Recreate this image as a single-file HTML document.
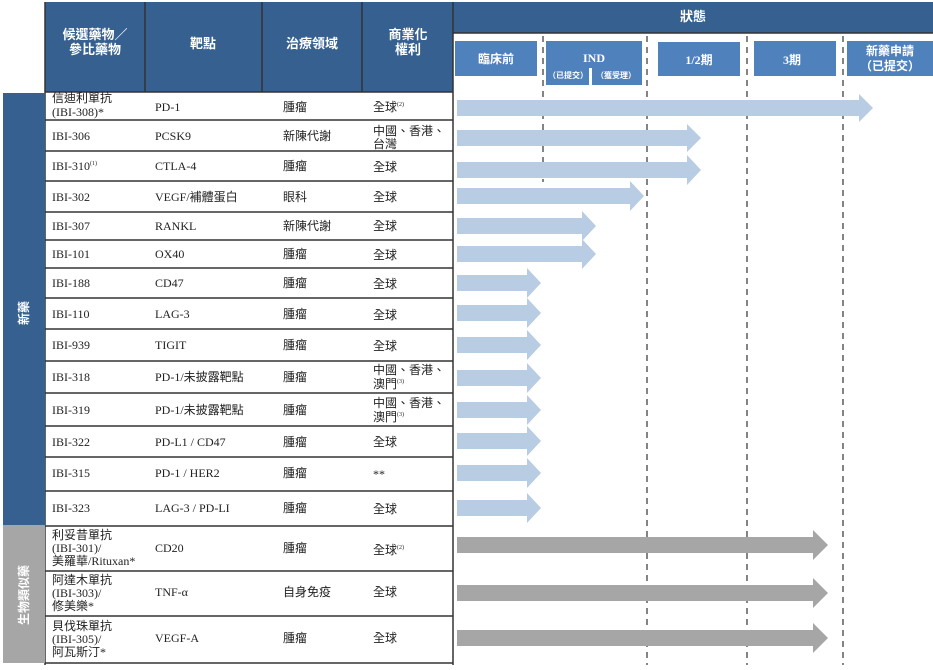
<!DOCTYPE html>
<html><head><meta charset="utf-8"><style>
body{margin:0;width:933px;height:665px;background:#fff;overflow:hidden;font-family:"Liberation Serif","Noto Serif CJK SC","Noto Sans CJK TC",serif;}
svg text{font-family:"Liberation Serif","Noto Sans CJK TC",serif;}
.h{font-family:"Liberation Sans","Noto Sans CJK TC",sans-serif;font-weight:bold;fill:#fff;}
</style></head><body>
<svg width="933" height="665" viewBox="0 0 933 665" xmlns="http://www.w3.org/2000/svg">
<rect x="45" y="2" width="408" height="90" fill="#36608f"/>
<rect x="453" y="2" width="480" height="31" fill="#36608f"/>
<g stroke="#333" stroke-width="1.5">
<line x1="145" y1="2" x2="145" y2="92"/><line x1="262" y1="2" x2="262" y2="92"/><line x1="362" y1="2" x2="362" y2="92"/>
<line x1="453" y1="2" x2="453" y2="665"/><line x1="45" y1="2" x2="45" y2="665"/>
<line x1="453" y1="33" x2="933" y2="33"/>
</g>
<g class="h" font-size="13" text-anchor="middle">
<text x="95" y="39" class="h">候選藥物／</text><text x="95" y="54" class="h">參比藥物</text>
<text x="203" y="48" class="h">靶點</text>
<text x="312" y="48" class="h">治療領域</text>
<text x="408" y="39" class="h">商業化</text><text x="408" y="54" class="h">權利</text>
<text x="693" y="21" class="h">狀態</text>
</g>
<g fill="#4f81bd">
<rect x="455" y="41" width="82" height="35"/>
<rect x="546" y="41" width="96" height="44"/>
<rect x="658" y="42" width="82" height="34"/>
<rect x="754" y="41" width="82" height="35"/>
<rect x="847" y="41" width="86" height="35"/>
</g>
<rect x="589" y="68" width="3" height="18" fill="#fff"/>
<g class="h" text-anchor="middle" font-size="12">
<text x="496" y="63" class="h">臨床前</text>
<text x="594" y="62" class="h" style="font-family:'Liberation Serif',serif">IND</text>
<text x="568" y="78" class="h" font-size="8">（已提交）</text>
<text x="616" y="78" class="h" font-size="8">（獲受理）</text>
<text x="699" y="64" class="h" style="font-family:'Liberation Serif','Noto Sans CJK TC',serif">1/2期</text>
<text x="792" y="64" class="h" style="font-family:'Liberation Serif','Noto Sans CJK TC',serif">3期</text>
<text x="890" y="55" class="h">新藥申請</text>
<text x="890" y="70" class="h">（已提交）</text>
</g>
<g stroke="#333" stroke-width="1.2" stroke-dasharray="6,5">
<line x1="543" y1="36" x2="543" y2="182"/>
<line x1="647" y1="36" x2="647" y2="665"/>
<line x1="747" y1="36" x2="747" y2="665"/>
<line x1="843" y1="36" x2="843" y2="665"/>
</g>
<rect x="3" y="93" width="42" height="432" fill="#36608f"/>
<rect x="3" y="525" width="42" height="138" fill="#a6a6a6"/>
<text class="h" font-size="12" transform="translate(28,313) rotate(-90)" text-anchor="middle">新藥</text>
<text class="h" font-size="12" transform="translate(28,595) rotate(-90)" text-anchor="middle">生物類似藥</text>
<g stroke="#333" stroke-width="1.5">
<line x1="45" y1="92" x2="453" y2="92"/>
<line x1="45" y1="120" x2="453" y2="120"/><line x1="45" y1="151" x2="453" y2="151"/>
<line x1="45" y1="181" x2="453" y2="181"/><line x1="45" y1="212" x2="453" y2="212"/>
<line x1="45" y1="240" x2="453" y2="240"/><line x1="45" y1="268" x2="453" y2="268"/>
<line x1="45" y1="298" x2="453" y2="298"/><line x1="45" y1="329" x2="453" y2="329"/>
<line x1="45" y1="361" x2="453" y2="361"/><line x1="45" y1="393" x2="453" y2="393"/>
<line x1="45" y1="426" x2="453" y2="426"/><line x1="45" y1="457" x2="453" y2="457"/>
<line x1="45" y1="491" x2="453" y2="491"/><line x1="45" y1="526" x2="453" y2="526"/>
<line x1="45" y1="571" x2="453" y2="571"/><line x1="45" y1="616" x2="453" y2="616"/>
<line x1="45" y1="663" x2="453" y2="663"/>
</g>
<g font-size="12" fill="#222">
<text x="52" y="102">信迪利單抗</text><text x="52" y="116">(IBI-308)*</text>
<text x="52" y="140">IBI-306</text><text x="52" y="170">IBI-310<tspan font-size="6" dy="-5">(1)</tspan></text>
<text x="52" y="201">IBI-302</text><text x="52" y="230">IBI-307</text><text x="52" y="258">IBI-101</text>
<text x="52" y="287">IBI-188</text><text x="52" y="318">IBI-110</text><text x="52" y="349">IBI-939</text>
<text x="52" y="381">IBI-318</text><text x="52" y="414">IBI-319</text><text x="52" y="446">IBI-322</text>
<text x="52" y="477">IBI-315</text><text x="52" y="512">IBI-323</text>
<text x="52" y="539">利妥昔單抗</text><text x="52" y="552">(IBI-301)/</text><text x="52" y="565">美羅華/Rituxan*</text>
<text x="52" y="584">阿達木單抗</text><text x="52" y="597">(IBI-303)/</text><text x="52" y="610">修美樂*</text>
<text x="52" y="630">貝伐珠單抗</text><text x="52" y="643">(IBI-305)/</text><text x="52" y="656">阿瓦斯汀*</text>

<text x="155" y="111">PD-1</text><text x="155" y="140">PCSK9</text><text x="155" y="170">CTLA-4</text>
<text x="155" y="201">VEGF/補體蛋白</text><text x="155" y="230">RANKL</text><text x="155" y="258">OX40</text>
<text x="155" y="287">CD47</text><text x="155" y="318">LAG-3</text><text x="155" y="349">TIGIT</text>
<text x="155" y="381">PD-1/未披露靶點</text><text x="155" y="414">PD-1/未披露靶點</text><text x="155" y="446">PD-L1 / CD47</text>
<text x="155" y="477">PD-1 / HER2</text><text x="155" y="512">LAG-3 / PD-LI</text>
<text x="155" y="552">CD20</text><text x="155" y="596">TNF-α</text><text x="155" y="642">VEGF-A</text>

<text x="283" y="111">腫瘤</text><text x="283" y="140">新陳代謝</text><text x="283" y="170">腫瘤</text>
<text x="283" y="201">眼科</text><text x="283" y="230">新陳代謝</text><text x="283" y="258">腫瘤</text>
<text x="283" y="287">腫瘤</text><text x="283" y="318">腫瘤</text><text x="283" y="349">腫瘤</text>
<text x="283" y="381">腫瘤</text><text x="283" y="414">腫瘤</text><text x="283" y="446">腫瘤</text>
<text x="283" y="477">腫瘤</text><text x="283" y="512">腫瘤</text>
<text x="283" y="552">腫瘤</text><text x="283" y="596">自身免疫</text><text x="283" y="642">腫瘤</text>

<text x="373" y="111">全球<tspan font-size="6" dy="-5">(2)</tspan></text>
<text x="373" y="135">中國、香港、</text><text x="373" y="148">台灣</text>
<text x="373" y="171">全球</text><text x="373" y="201">全球</text><text x="373" y="230">全球</text><text x="373" y="259">全球</text>
<text x="373" y="288">全球</text><text x="373" y="319">全球</text><text x="373" y="350">全球</text>
<text x="373" y="374">中國、香港、</text><text x="373" y="388">澳門<tspan font-size="6" dy="-5">(3)</tspan></text>
<text x="373" y="407">中國、香港、</text><text x="373" y="421">澳門<tspan font-size="6" dy="-5">(3)</tspan></text>
<text x="373" y="446">全球</text><text x="373" y="478">**</text><text x="373" y="513">全球</text>
<text x="373" y="554">全球<tspan font-size="6" dy="-5">(2)</tspan></text><text x="373" y="596">全球</text><text x="373" y="642">全球</text>
</g>
<g fill="#b8cce4">
<polygon points="457,100 859,100 859,94 873,108 859,122 859,116 457,116"/>
<polygon points="457,130 687,130 687,124 701,138 687,152 687,146 457,146"/>
<polygon points="457,162 687,162 687,155 701,170 687,185 687,178 457,178"/>
<polygon points="457,188 630,188 630,181 644,196 630,211 630,204 457,204"/>
<polygon points="457,218 582,218 582,211 596,226 582,241 582,234 457,234"/>
<polygon points="457,246 582,246 582,239 596,254 582,269 582,262 457,262"/>
<polygon points="457,275 527,275 527,268 541,283 527,298 527,291 457,291"/>
<polygon points="457,305 527,305 527,298 541,313 527,328 527,321 457,321"/>
<polygon points="457,337 527,337 527,330 541,345 527,360 527,353 457,353"/>
<polygon points="457,370 527,370 527,363 541,378 527,393 527,386 457,386"/>
<polygon points="457,402 527,402 527,395 541,410 527,425 527,418 457,418"/>
<polygon points="457,433 527,433 527,426 541,441 527,456 527,449 457,449"/>
<polygon points="457,465 527,465 527,458 541,473 527,488 527,481 457,481"/>
<polygon points="457,500 527,500 527,493 541,508 527,523 527,516 457,516"/>
</g>
<g fill="#a6a6a6">
<polygon points="457,537 813,537 813,530 828,545 813,560 813,553 457,553"/>
<polygon points="457,585 813,585 813,578 828,593 813,608 813,601 457,601"/>
<polygon points="457,630 813,630 813,623 828,638 813,653 813,646 457,646"/>
</g>
</svg>
</body></html>
